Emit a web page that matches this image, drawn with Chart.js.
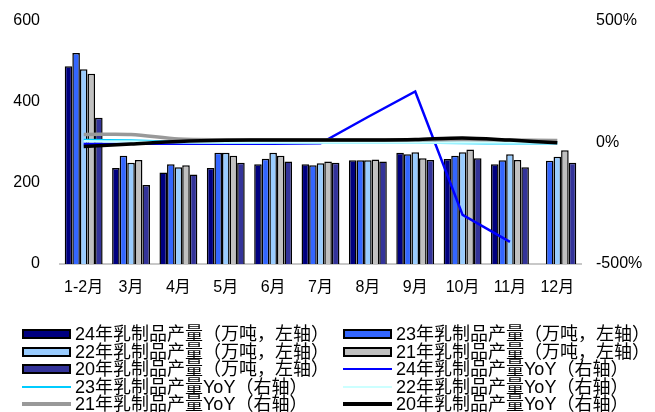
<!DOCTYPE html>
<html>
<head>
<meta charset="utf-8">
<script src="https://cdn.jsdelivr.net/npm/chart.js@4/dist/chart.umd.min.js"></script>
<style>
    body { margin: 0; background: #fff; font-family: "Liberation Sans", "Noto Sans CJK SC", sans-serif; }
    #wrap { position: relative; width: 655px; height: 412px; overflow: hidden; }
    #box { position: absolute; left: 0; top: 0; width: 655px; height: 305px; }
    #legend { position: absolute; left: 0; top: 0; width: 655px; height: 412px; }
    .item { position: absolute; display: flex; align-items: center; height: 18px; font-size: 18px; line-height: 18px; color: #000; white-space: nowrap; }
    .swatch { width: 49px; margin-right: 4px; box-sizing: border-box; flex: none; }
    .txt { display: inline-block; }
</style>
</head>
<body>
<div id="wrap">
    <div id="box"><canvas id="chart"></canvas></div>
    <div id="legend"></div>
</div>
<script>
const months = ['1-2月', '3月', '4月', '5月', '6月', '7月', '8月', '9月', '10月', '11月', '12月'];

// output, 10k tons (left axis)
const out24 = [488, 237, 226, 237, 246, 246, 256, 275, 259, 246, null];
const out23 = [521, 267, 246, 275, 260, 244, 256, 271, 267, 256, 255];
const out22 = [481, 250, 239, 275, 275, 249, 256, 276, 276, 271, 265];
const out21 = [470, 257, 244, 267, 267, 253, 258, 261, 283, 257, 281];
const out20 = [361, 195, 221, 250, 253, 250, 253, 257, 261, 239, 250];

// YoY, % (right axis)
const yoy24 = [-5, -5, -5, -5, -5, -3, 105, 210, -298, -409, null];
const yoy23 = [10, 8, 2, 0, 0, 0, 0, 0, -2, -3, -3];
const yoy22 = [5, 4, 1, 0, 0, 0, 0, 0, 0, 0, 0];
const yoy21 = [33, 33, 14, 11, 10, 10, 10, 10, 12, 10, 8];
const yoy20 = [-16, -6, 4, 9, 10, 10, 10, 12, 19, 10, -1];

const leftTicks = [0, 200, 400, 600];
const rightTicks = [-500, 0, 500];

function bar(label, data, color) {
    return {
        type: 'bar', label: label, data: data, yAxisID: 'y',
        backgroundColor: color, borderColor: '#000', borderWidth: 1.5,
        categoryPercentage: 0.8, barPercentage: 1.0, order: 10
    };
}

function line(label, data, color, width, order, tension) {
    return {
        type: 'line', label: label, data: data, yAxisID: 'y1',
        borderColor: color, backgroundColor: color, borderWidth: width,
        pointRadius: 0, tension: tension, order: order, spanGaps: false
    };
}

const datasets = [
    bar('24年乳制品产量（万吨，左轴）', out24, '#000080'),
    bar('23年乳制品产量（万吨，左轴）', out23, '#3366FF'),
    bar('22年乳制品产量（万吨，左轴）', out22, '#99CCFF'),
    bar('21年乳制品产量（万吨，左轴）', out21, '#C0C0C0'),
    bar('20年乳制品产量（万吨，左轴）', out20, '#333399'),
    line('24年乳制品产量YoY（右轴）', yoy24, '#0000FF', 2.5, 5, 0),
    line('23年乳制品产量YoY（右轴）', yoy23, '#00CCFF', 2.5, 4, 0.3),
    line('22年乳制品产量YoY（右轴）', yoy22, '#CCFFFF', 2.5, 3, 0.3),
    line('21年乳制品产量YoY（右轴）', yoy21, '#999999', 3.5, 2, 0.3),
    line('20年乳制品产量YoY（右轴）', yoy20, '#000000', 3.5, 1, 0.3)
];

const tickFont = { family: 'Liberation Sans, Noto Sans CJK SC', size: 16 };

// drop the extra room Chart.js keeps above/below vertical axes
function noPad(s) {
    s.paddingTop = 0;
    s.paddingBottom = 0;
}

const chart = new Chart(document.getElementById('chart').getContext('2d'), {
    data: { labels: months, datasets: datasets },
    options: {
        responsive: true,
        maintainAspectRatio: false,
        animation: false,
        layout: { padding: { top: 21, left: 0, right: 0, bottom: 0 } },
        plugins: { legend: { display: false }, tooltip: { enabled: false } },
        scales: {
            x: {
                grid: { display: false, drawTicks: false },
                border: { display: true, color: '#C8C8C8', width: 2 },
                ticks: { color: '#000', font: { family: 'Liberation Sans, Noto Sans CJK SC', size: 16 }, padding: 14, maxRotation: 0, autoSkip: false },
                afterFit: s => { s.height = 41; }
            },
            y: {
                position: 'left', min: 0, max: 600,
                afterBuildTicks: s => { s.ticks = leftTicks.map(v => ({ value: v })); },
                grid: { display: false, drawTicks: false },
                border: { display: false },
                ticks: { color: '#000', font: tickFont, padding: 20 },
                afterFit: s => { s.width = 60; noPad(s); }
            },
            y1: {
                position: 'right', min: -500, max: 500,
                afterBuildTicks: s => { s.ticks = rightTicks.map(v => ({ value: v })); },
                grid: { display: false, drawTicks: false },
                border: { display: false },
                ticks: { color: '#000', font: tickFont, padding: 15, callback: v => v + '%' },
                afterFit: s => { s.width = 74; noPad(s); }
            }
        }
    }
});

// legend in two columns, built from the datasets
const legend = document.getElementById('legend');
chart.data.datasets.forEach((ds, i) => {
    const item = document.createElement('div');
    item.className = 'item';
    item.style.left = (i % 2 === 0 ? 22 : 343) + 'px';
    item.style.top = (325 + Math.floor(i / 2) * 17.6) + 'px';
    const sw = document.createElement('span');
    sw.className = 'swatch';
    if (ds.type === 'bar') {
        sw.style.height = '10px';
        sw.style.background = ds.backgroundColor;
        sw.style.border = '2px solid #000';
    } else {
        sw.style.height = (ds.borderWidth > 3 ? 4 : 2.5) + 'px';
        sw.style.background = ds.borderColor;
    }
    const tx = document.createElement('span');
    tx.className = 'txt';
    tx.textContent = ds.label;
    item.appendChild(sw);
    item.appendChild(tx);
    legend.appendChild(item);
});
</script>
</body>
</html>
